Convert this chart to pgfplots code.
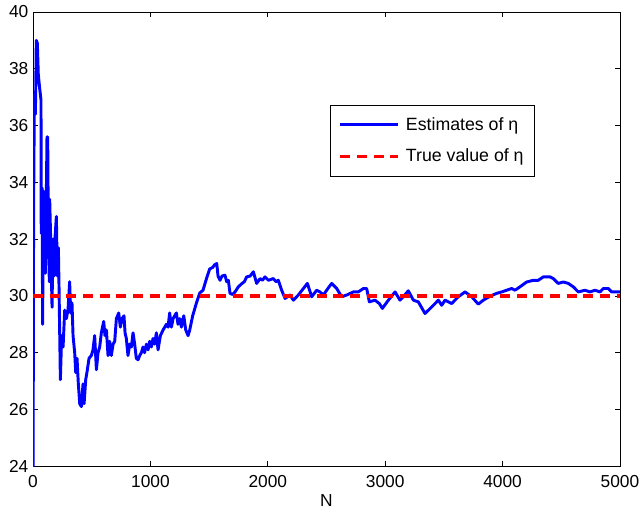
\documentclass[border=0pt]{standalone}
\usepackage{fontspec}
\setmainfont{Liberation Sans}
\usepackage{pgfplots}
\pgfplotsset{compat=1.18}
\usetikzlibrary{calc}
\definecolor{mblue}{RGB}{0,0,255}
\definecolor{mred}{RGB}{255,0,0}
\begin{document}
\begin{tikzpicture}
\begin{axis}[
  scale only axis,
  width=440pt, height=340.5pt,
  xmin=0, xmax=5000, ymin=24, ymax=40,
  xtick={0,1000,...,5000}, ytick={24,26,...,40},
  scaled x ticks=false,
  xticklabel style={/pgf/number format/1000 sep={}, yshift=-3pt},
  /pgf/number format/assume math mode=true,
  tick label style={font=\fontsize{13}{15}\selectfont},
  label style={font=\fontsize{13}{15}\selectfont},
  xlabel={N},
  xlabel style={yshift=1pt},
  axis line style={line width=0.6pt},
  major tick length=4pt,
  tick style={line width=0.5pt, black},
  legend style={at={(0.506,0.795)}, anchor=north west, draw=black, line width=0.6pt,
    font=\fontsize{13.3}{15}\selectfont, inner xsep=6pt, inner ysep=7pt, row sep=8.5pt},
  legend cell align=left,
  legend image code/.code={\draw[#1] (0pt,0pt) -- (43pt,0pt); \path (46pt,0pt);},
]
\addplot[mblue, line width=2.2pt, line join=round] coordinates {
(0,22) (5,33) (9,35.5) (11,37.1) (16,36.6) (20,36.4) (24,37.5) (28,39.0) (37,38.9)
(45,37.8) (57,37.3) (68,36.9) (70,32.2) (77,33.8) (82,29.0) (88,33.7) (94,32.0)
(105,30.8) (112,33) (119,35.6) (125,35.6) (131,32.0) (139,30.5) (142,33.4) (151,31.9)
(162,29.6) (170,32.0) (179,30.7) (185,31.9) (199,32.8) (207,30.7) (216,31.7) (222,30.2)
(233,27.05) (244,28.6) (256,28.2) (270,29.5) (284,29.2) (298,29.5) (312,30.5) (321,29.4)
(332,29.75) (341,28.6) (355,28.0) (364,27.3) (375,27.8) (386,26.9) (398,26.2) (412,26.1)
(426,26.9) (435,26.2) (449,27.05) (463,27.4) (477,27.8) (497,27.9) (511,28.1) (525,28.6)
(540,27.4) (554,28.0) (568,28.2) (582,28.7) (602,29.1) (613,28.6) (625,28.8) (639,27.9)
(653,28.4) (667,27.9) (682,28.3) (696,28.4) (710,29.2) (730,29.4) (744,28.9) (758,29.2)
(775,29.3) (784,28.7) (795,28.5) (809,27.9) (824,28.3) (838,28.2) (852,28.7) (866,28.3)
(880,27.8) (895,27.75) (909,27.9) (923,28.0) (937,28.2) (950,28.0) (966,28.3) (980,28.1)
(994,28.4) (1008,28.2) (1022,28.5) (1036,28.3) (1051,28.7) (1065,28.1) (1085,28.6)
(1108,28.8) (1136,29.0) (1150,28.9) (1164,29.4) (1179,28.9) (1193,29.2) (1221,29.4)
(1235,29.0) (1250,29.2) (1264,28.9) (1284,29.3) (1301,28.8) (1321,28.6) (1335,28.8)
(1360,29.3) (1392,29.75) (1420,30.1) (1448,30.2) (1477,30.6) (1505,30.95) (1530,31.0)
(1548,31.1) (1565,31.14) (1576,30.7) (1593,30.55) (1610,30.7) (1635,30.73) (1650,30.5)
(1664,30.55) (1678,30.09) (1700,30.05) (1721,30.14) (1749,30.32) (1778,30.43) (1800,30.5)
(1820,30.67) (1850,30.7) (1877,30.85) (1905,30.44) (1934,30.61) (1955,30.55) (1976,30.67)
(2005,30.55) (2047,30.61) (2070,30.5) (2090,30.55) (2118,30.2) (2147,29.91) (2189,30.03)
(2218,29.85) (2260,30.03) (2303,30.26) (2337,30.44) (2374,29.97) (2416,30.2) (2445,30.14)
(2473,30.03) (2510,30.25) (2544,30.44) (2587,30.26) (2629,29.97) (2672,30.03) (2729,30.14)
(2771,30.14) (2814,30.26) (2842,30.26) (2865,29.79) (2913,29.85) (2950,29.73) (2976,29.56)
(3027,29.85) (3084,30.14) (3126,29.85) (3160,30.0) (3197,30.18) (3240,29.85) (3282,29.79)
(3339,29.38) (3396,29.61) (3453,29.85) (3481,29.67) (3510,29.85) (3566,29.73) (3623,29.97)
(3680,30.14) (3737,29.97) (3793,29.71) (3836,29.85) (3893,29.99) (3950,30.09) (3992,30.14)
(4035,30.2) (4077,30.26) (4106,30.2) (4148,30.32) (4205,30.49) (4262,30.55) (4304,30.55)
(4347,30.67) (4404,30.67) (4432,30.61) (4474,30.44) (4517,30.49) (4560,30.44) (4602,30.32)
(4645,30.14) (4702,30.2) (4745,30.14) (4787,30.2) (4830,30.14) (4858,30.26) (4901,30.26)
(4929,30.14) (5000,30.14)
};
\addlegendentry{Estimates of η}
\addplot[mred, line width=2.6pt, dash pattern=on 7.5pt off 5pt] coordinates {(0,30) (5000,30)};
\addlegendentry{True value of η}
\end{axis}
\pgfresetboundingbox
\path ($(current axis.south west)+(-24.75pt,-35.25pt)$) rectangle ($(current axis.north east)+(14.25pt,9pt)$);
\end{tikzpicture}
\end{document}
